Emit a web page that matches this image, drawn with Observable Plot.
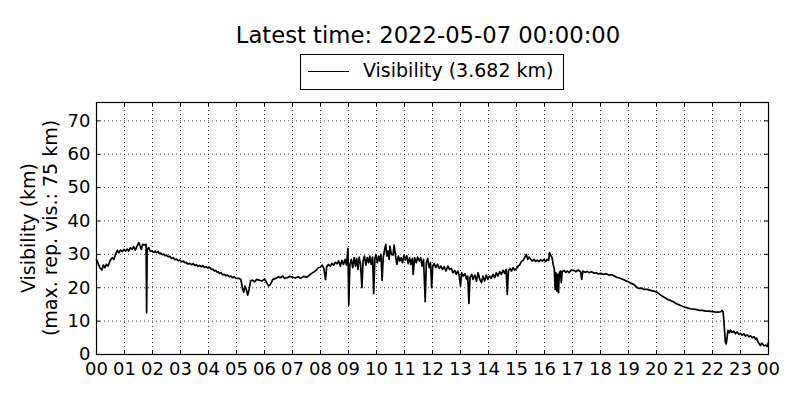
<!DOCTYPE html>
<html>
<head>
<meta charset="utf-8">
<script src="https://cdn.jsdelivr.net/npm/d3@7"></script>
<script src="https://cdn.jsdelivr.net/npm/@observablehq/plot@0.6"></script>
<style>
  html, body { margin: 0; padding: 0; background: #fff; }
  #wrap { position: relative; width: 800px; height: 400px; font-family: "DejaVu Sans", sans-serif; color: #000; overflow: hidden; background: #fff; }
  #title { position: absolute; left: 0; width: 856px; top: 24px; text-align: center; font-size: 22.7px; line-height: 22px; white-space: nowrap; z-index: 2; }
  #legend { position: absolute; left: 300px; top: 54px; width: 262px; height: 34px; border: 1px solid #000; background: #fff; z-index: 2; }
  #legend .swatch { position: absolute; left: 7px; top: 16px; width: 41px; border-top: 1.3px solid #000; }
  #legend .txt { position: absolute; left: 62px; top: 6px; font-size: 19px; line-height: 19px; white-space: nowrap; }
  #ylabel { position: absolute; left: -111px; top: 206px; width: 300px; height: 44px; transform: rotate(-90deg); text-align: center; font-size: 19px; line-height: 22px; white-space: nowrap; z-index: 2; }
  #chart { position: absolute; left: 0; top: 90px; z-index: 1; }
</style>
</head>
<body>
<div id="wrap">
  <div id="chart"></div>
  <div id="title"></div>
  <div id="legend"><div class="swatch"></div><div class="txt"></div></div>
  <div id="ylabel"></div>
</div>
<script>
// ---- data ----
const titleText = "Latest time: 2022-05-07 00:00:00";
const seriesName = "Visibility";
const yLabelLines = ["Visibility (km)", "(max. rep. vis.: 75 km)"];
const hourLabels = ["00","01","02","03","04","05","06","07","08","09","10","11","12","13","14","15","16","17","18","19","20","21","22","23","00"];
const yTickValues = [0, 10, 20, 30, 40, 50, 60, 70];

// hours since 2022-05-06 00:00 UTC
const hours = [
  0.00,0.05,0.12,0.19,0.24,0.30,0.35,0.42,0.48,0.56,0.62,0.68,0.74,0.80,0.86,0.92,0.98,
  1.04,1.09,1.15,1.21,1.27,1.33,1.39,1.45,1.51,1.56,1.60,1.65,1.72,1.77,1.79,1.81,1.86,1.92,1.98,
  2.05,2.10,2.15,2.20,2.25,2.30,2.35,2.40,2.45,2.50,2.56,2.62,2.68,2.74,2.80,2.86,2.92,2.98,
  3.04,3.10,3.15,3.21,3.27,3.33,3.40,3.45,3.51,3.56,3.62,3.68,3.74,3.80,3.86,3.92,3.98,
  4.04,4.10,4.16,4.21,4.26,4.30,4.35,4.39,4.45,4.50,4.56,4.62,4.68,4.74,4.80,4.86,4.92,4.98,
  5.10,5.16,5.22,5.26,5.30,5.35,5.40,5.45,5.50,
  5.57,5.65,5.72,5.80,5.90,6.00,6.08,6.15,6.21,6.30,6.40,6.50,6.57,6.65,6.72,6.81,6.90,
  7.00,7.10,7.20,7.29,7.40,7.52,7.60,7.68,7.76,7.85,7.92,
  8.00,8.06,8.12,8.18,8.22,8.28,8.35,8.41,8.47,8.53,8.59,8.65,8.71,8.76,8.82,8.88,8.93,8.98,
  9.01,9.05,9.10,9.15,9.20,9.25,9.29,9.34,9.38,9.43,9.48,9.52,9.57,9.62,9.67,9.72,9.76,9.81,9.86,9.90,9.94,9.98,
  10.03,10.08,10.12,10.16,10.20,10.24,10.29,10.33,10.37,10.41,10.45,10.48,10.53,10.59,10.63,10.68,10.73,10.78,10.83,10.88,10.93,10.98,
  11.03,11.08,11.13,11.18,11.23,11.28,11.31,11.36,11.42,11.47,11.53,11.58,11.63,11.68,11.74,11.78,11.83,11.88,11.93,11.97,
  12.01,12.06,12.12,12.18,12.24,12.30,12.36,12.42,12.48,12.55,12.61,12.67,12.73,12.79,12.85,12.90,12.95,
  13.00,13.04,13.10,13.16,13.22,13.26,13.30,13.34,13.40,13.45,13.51,13.57,13.63,13.69,13.75,13.80,13.86,13.92,13.98,
  14.04,14.10,14.16,14.22,14.28,14.34,14.40,14.46,14.52,14.58,14.63,14.67,14.71,14.77,14.82,14.88,14.94,
  15.00,15.06,15.11,15.17,15.23,15.29,15.35,15.40,15.45,15.50,15.56,15.62,15.68,15.74,15.80,15.86,15.92,15.98,
  16.04,16.10,16.15,16.18,16.22,16.27,16.31,16.35,16.38,16.41,16.44,16.47,16.50,16.53,16.57,16.60,16.63,16.70,16.76,16.81,16.88,16.95,
  17.05,17.12,17.20,17.29,17.33,17.37,17.45,17.52,17.60,17.68,17.76,17.85,17.92,
  18.00,18.10,18.20,18.30,18.40,18.48,18.56,18.65,18.74,18.83,18.92,
  19.00,19.10,19.19,19.28,19.37,19.46,19.56,19.67,19.78,19.90,
  20.02,20.12,20.20,20.26,20.35,20.42,20.50,20.60,20.70,20.78,20.86,20.95,
  21.05,21.13,21.21,21.30,21.40,21.50,21.57,21.65,21.75,21.85,21.93,
  22.02,22.12,22.20,22.29,22.34,22.38,22.41,22.44,22.46,22.49,22.52,22.55,22.60,22.64,22.70,22.76,22.82,22.88,22.94,
  23.00,23.06,23.12,23.18,23.24,23.30,23.36,23.42,23.48,23.54,23.58,23.62,23.67,23.71,23.76,23.80,23.85,23.90,23.95,24.00
];
// visibility in km
const visibility = [
  28.5,27.5,26.0,25.3,26.8,26.0,27.0,26.5,28.0,29.0,28.5,30.0,31.2,30.5,31.3,30.8,31.5,
  31.0,31.6,31.0,32.0,31.5,32.3,31.3,32.5,33.5,32.5,31.5,33.0,32.8,33.0,12.5,31.5,32.0,31.0,31.0,
  30.6,31.0,30.5,30.9,30.2,30.4,29.9,30.1,29.6,29.8,29.3,29.4,28.8,29.0,28.4,28.6,28.1,28.3,
  27.8,28.0,27.5,27.6,27.1,27.3,26.9,27.2,26.7,26.9,26.4,26.7,26.3,26.6,26.1,26.3,25.9,
  26.1,25.6,25.5,25.0,25.2,24.7,24.8,24.3,24.5,23.9,24.0,23.6,23.8,23.3,23.5,23.0,23.3,22.8,
  22.8,22.4,19.5,18.7,20.5,19.5,17.8,19.5,22.0,
  22.3,21.8,22.5,22.3,22.0,22.6,21.5,20.5,21.0,22.5,22.8,23.3,23.0,23.5,22.8,23.0,23.4,
  23.2,22.9,23.3,22.8,23.4,23.2,23.8,24.3,24.7,25.3,26.0,
  26.2,26.8,25.8,22.4,26.3,27.0,26.4,27.3,26.8,27.6,27.2,28.0,26.5,28.2,27.0,28.5,26.8,31.8,
  14.8,27.0,28.5,26.0,29.0,26.5,28.8,25.5,29.2,27.0,20.0,28.0,29.5,26.8,29.0,27.5,29.5,27.0,29.2,18.2,28.5,30.0,
  27.5,29.5,28.0,30.0,22.2,29.0,31.5,33.0,29.5,31.0,28.5,32.5,30.0,29.8,32.8,29.5,27.0,29.5,28.0,29.0,27.5,29.8,
  28.3,29.6,27.2,29.0,27.0,28.8,24.0,29.0,27.5,29.2,28.0,29.0,26.5,28.5,15.8,27.5,28.8,26.0,27.5,20.0,
  26.5,27.2,26.0,27.0,25.8,26.5,25.5,26.3,25.0,26.5,25.5,25.8,24.5,25.2,24.0,25.0,23.8,
  20.5,24.5,23.5,24.2,22.5,23.5,15.3,23.0,24.0,22.5,23.8,22.0,24.5,22.5,21.5,23.5,22.0,23.8,22.5,
  23.5,22.8,24.0,23.0,24.5,23.5,24.8,24.0,25.2,24.3,25.5,18.0,25.0,25.8,25.0,26.0,25.3,
  25.8,26.5,26.8,27.8,28.2,29.0,30.0,28.5,29.2,28.6,28.0,28.5,27.9,28.3,27.8,28.4,28.0,28.5,
  27.9,28.5,28.2,30.5,29.8,29.0,27.0,25.5,19.5,24.5,19.0,24.0,18.5,24.5,25.0,21.5,24.8,25.2,24.6,25.0,24.5,25.3,
  25.2,24.8,25.3,24.8,22.5,25.0,24.6,24.9,24.5,24.8,24.4,24.5,24.1,
  24.3,24.0,24.2,23.8,23.9,23.6,23.2,23.0,22.7,22.4,22.0,
  21.8,21.3,21.0,20.2,19.8,19.9,19.5,19.5,19.2,19.0,
  18.7,18.0,17.5,17.2,16.8,16.4,16.2,15.8,15.3,15.0,14.7,14.4,
  14.1,13.9,13.7,13.6,13.5,13.3,13.2,13.2,13.0,13.0,12.9,
  12.8,12.7,12.7,12.8,13.2,12.8,9.5,6.0,3.7,3.2,5.0,7.2,6.5,7.3,6.6,7.0,6.2,6.8,6.0,
  6.3,5.8,6.2,5.5,5.9,5.3,5.6,5.0,5.3,4.6,4.9,3.8,3.2,2.7,3.4,3.0,2.6,2.8,2.4,3.682
];
const yMax = 75.5;

// ---- build ----
const t0 = Date.UTC(2022, 4, 6);
const rows = hours.map((h, i) => ({ time: new Date(t0 + h * 3600e3), vis: visibility[i] }));
const xStart = new Date(t0), xEnd = new Date(t0 + 24 * 3600e3);
const xTicks = hourLabels.map((_, i) => new Date(t0 + i * 3600e3));

document.getElementById("title").textContent = titleText;
document.querySelector("#legend .txt").textContent = `${seriesName} (${visibility[visibility.length - 1].toFixed(3)} km)`;
document.getElementById("ylabel").innerHTML = yLabelLines.map(s => `<div>${s}</div>`).join("");

const W = 800, H = 310, mL = 96, mR = 32, mT = 12, mB = 46;
const tickPx = 4;
const yTickLen = tickPx * yMax / (H - mT - mB);        // inward x-tick length in y units
const xTickLen = tickPx * 24 * 3600e3 / (W - mL - mR);  // inward y-tick length in ms

const chart = Plot.plot({
  width: W, height: H,
  marginLeft: mL, marginRight: mR, marginTop: mT, marginBottom: mB,
  style: { fontFamily: "DejaVu Sans, sans-serif", fontSize: "18px", color: "#000", background: "transparent", overflow: "visible" },
  x: { type: "utc", domain: [xStart, xEnd] },
  y: { domain: [0, yMax] },
  marks: [
    Plot.gridX(xTicks, { stroke: "#000", strokeOpacity: 0.9, strokeWidth: 0.8, strokeDasharray: "1,3" }),
    Plot.gridY(yTickValues, { stroke: "#000", strokeOpacity: 0.9, strokeWidth: 0.8, strokeDasharray: "1,3" }),
    Plot.line(rows, { x: "time", y: "vis", stroke: "#000", strokeWidth: 1.7 }),
    // inward ticks on all four sides
    Plot.ruleX(xTicks, { x: d => d, y1: 0, y2: yTickLen, stroke: "#000" }),
    Plot.ruleX(xTicks, { x: d => d, y1: yMax - yTickLen, y2: yMax, stroke: "#000" }),
    Plot.ruleY(yTickValues, { y: d => d, x1: xStart, x2: new Date(+xStart + xTickLen), stroke: "#000" }),
    Plot.ruleY(yTickValues, { y: d => d, x1: new Date(+xEnd - xTickLen), x2: xEnd, stroke: "#000" }),
    Plot.axisX(xTicks, { tickSize: 0, tickPadding: 8, tickFormat: (d, i) => hourLabels[i], label: null, fontSize: 18 }),
    Plot.axisY(yTickValues, { tickSize: 0, tickPadding: 6, label: null, fontSize: 18 }),
    Plot.frame({ stroke: "#000", strokeWidth: 1.2 })
  ]
});
document.getElementById("chart").appendChild(chart);
</script>
</body>
</html>
